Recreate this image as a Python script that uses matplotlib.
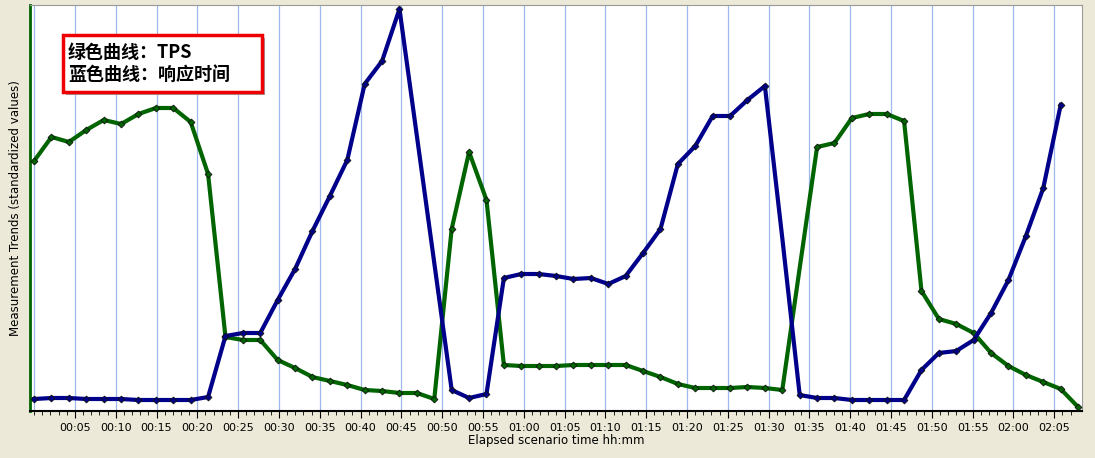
import numpy as np
import matplotlib
matplotlib.use("Agg")
import matplotlib.pyplot as plt
from matplotlib.patches import Rectangle

plt.rcParams['font.family'] = ['Noto Sans CJK SC', 'DejaVu Sans']

STEP_MIN = 2.132  # sampling interval in minutes
# standardized values (0..406)
tps = [250, 274, 269, 281, 291, 287, 297, 303, 303, 289, 237, 74, 71, 71, 51, 43, 34, 30, 26, 21,
       20, 18, 18, 12, 182, 259, 211, 46, 45, 45, 45, 46, 46, 46, 46, 40, 34, 27, 23, 23,
       23, 24, 23, 21, 143, 264, 268, 293, 297, 297, 290, 120, 92, 87, 78, 58, 45, 36, 29, 22, 4]
resp = [12, 13, 13, 12, 12, 12, 11, 11, 11, 11, 14, 75, 78, 78, 111, 142, 180, 215, 251, 327,
        350, 402, 275, 148, 21, 13, 17, 133, 137, 137, 135, 132, 133, 127, 135, 158, 182, 247, 265, 295,
        295, 311, 325, 173, 16, 13, 13, 11, 11, 11, 11, 41, 58, 60, 71, 98, 131, 175, 223, 306]
# samples drawn without a marker in the original chart
tps_hidden = [44]
resp_hidden = [22, 23, 43]
tick_labels = ["00:05", "00:10", "00:15", "00:20", "00:25", "00:30", "00:35", "00:40", "00:45", "00:50",
               "00:55", "01:00", "01:05", "01:10", "01:15", "01:20", "01:25", "01:30", "01:35", "01:40",
               "01:45", "01:50", "01:55", "02:00", "02:05"]

t_tps = np.arange(len(tps)) * STEP_MIN
t_resp = np.arange(len(resp)) * STEP_MIN

fig = plt.figure(figsize=(10.95, 4.58), dpi=100, facecolor="#ECE9D8")
ax = fig.add_axes([30 / 1095, 47 / 458, 1052 / 1095, 406 / 458])
ax.set_facecolor("white")

ticks = np.arange(5, 5 * len(tick_labels) + 1, 5)
for x in np.concatenate([[0], ticks]):
    ax.axvline(x, color="#9DBAEB", lw=0.9, zorder=0)

style = dict(lw=3, marker="D", ms=3.5, mec="#111111", mew=0.6, zorder=3)
ax.plot(t_tps, tps, color="#006400", mfc="#006400",
        markevery=[i for i in range(len(tps)) if i not in tps_hidden], **style)
ax.plot(t_resp, resp, color="#00008B", mfc="#00008B",
        markevery=[i for i in range(len(resp)) if i not in resp_hidden], **style)

ax.set_xlim(-0.5, 128.4)
ax.set_ylim(0, 406)
ax.set_yticks([])
ax.set_xticks(ticks)
ax.set_xticklabels(tick_labels, fontsize=8, family="DejaVu Sans")
ax.set_xticks(np.arange(0, 128, 1), minor=True)
ax.tick_params(axis="x", which="major", length=5, direction="out")
ax.tick_params(axis="x", which="minor", length=3, direction="out")
for s in ["top", "right"]:
    ax.spines[s].set_color("#999999")
    ax.spines[s].set_linewidth(0.8)
ax.spines["left"].set_color("#006400")
ax.spines["left"].set_linewidth(2)
ax.spines["bottom"].set_linewidth(1.5)

ax.set_xlabel("Elapsed scenario time hh:mm", fontsize=8.5, labelpad=1, family="DejaVu Sans")
ax.set_ylabel("Measurement Trends (standardized values)", fontsize=8.5, labelpad=6, family="DejaVu Sans")

# annotation box with shadow
fig.patches.append(Rectangle((66 / 1095, 1 - 95 / 458), 199 / 1095, 57 / 458, transform=fig.transFigure,
                             facecolor="#A0A0A0", edgecolor="none", zorder=5))
fig.patches.append(Rectangle((63 / 1095, 1 - 92 / 458), 199 / 1095, 57 / 458, transform=fig.transFigure,
                             facecolor="white", edgecolor="#EE0000", lw=2.5, zorder=6))
fig.text(68 / 1095, 1 - 52 / 458, "绿色曲线：TPS", fontsize=13, fontweight="bold", va="center", zorder=7)
fig.text(68 / 1095, 1 - 74 / 458, "蓝色曲线：响应时间", fontsize=13, fontweight="bold", va="center", zorder=7)

fig.savefig("out.png", dpi=100, facecolor=fig.get_facecolor())
